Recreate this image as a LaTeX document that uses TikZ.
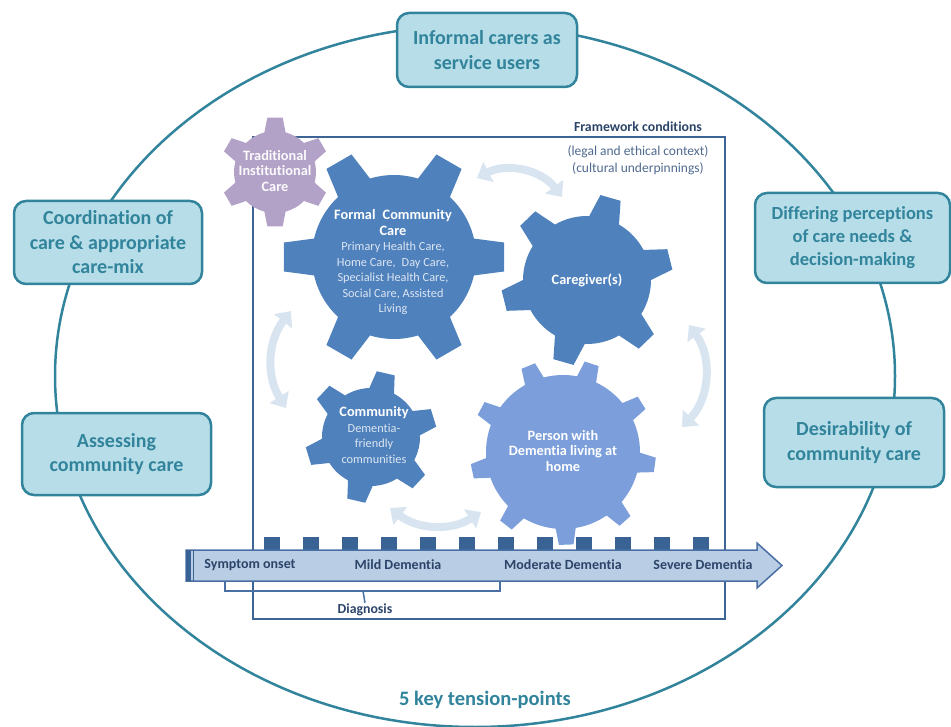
\documentclass[tikz,border=0pt]{standalone}
\usepackage{fontspec}
\setmainfont{Carlito}[Ligatures=NoCommon]
\usetikzlibrary{arrows.meta,positioning}
\definecolor{tealline}{HTML}{31849B}
\definecolor{tealfill}{HTML}{B7DEE8}
\definecolor{cogblue}{HTML}{4F81BD}
\definecolor{coglight}{HTML}{7C9FDC}
\definecolor{coglilac}{HTML}{B3A2C7}
\definecolor{cogtext}{HTML}{DCE6F2}
\definecolor{framecol}{HTML}{3E6496}
\definecolor{navytext}{HTML}{2B4468}
\definecolor{greytext}{HTML}{4F6A90}
\definecolor{cyclecol}{HTML}{D9E4F1}
\definecolor{barfill}{HTML}{B9CDE5}
\definecolor{barline}{HTML}{4A6FA5}
\definecolor{tickcol}{HTML}{3A6395}
\newcommand\cogline[1]{{\fontsize{12.3}{15}\selectfont\mdseries\color{cogtext}#1}}

\begin{document}
\begin{tikzpicture}[x=1pt,y=1pt,
    tension box/.style={draw=tealline,fill=tealfill,line width=2.5pt,rounded corners=12pt,
      text=tealline,align=center,inner sep=0pt},
    cog label/.style={text=white,font=\fontsize{14.3}{15.5}\selectfont\bfseries,align=center,inner sep=0pt},
    stage/.style={text=navytext,font=\fontsize{14}{16}\selectfont\bfseries,inner sep=1pt},
    cycle arrow/.style={cyclecol,line width=8pt,
      {Triangle[width=22pt,length=13pt]}-{Triangle[width=22pt,length=13pt]}},
    pics/cog/.style args={#1/#2/#3/#4/#5/#6}{code={
      \path[pic actions] ({#4-#5}:#1)
        \foreach \k [evaluate=\k as \a using #4+(\k-1)*360/#3] in {1,...,#3}{
          -- ({\a-#6}:#2) -- ({\a+#6}:#2) -- ({\a+#5}:#1)
          arc[start angle=\a+#5, delta angle=360/#3-2*#5, radius=#1]} -- cycle;
    }}]

    \useasboundingbox (0,0) rectangle (951,-727);

    % Tension points
    \draw[tealline,line width=2.5pt] (475,-376) ellipse [x radius=420, y radius=351];
    \node[tension box,minimum width=180pt,minimum height=74pt,
        font=\fontsize{20}{25}\selectfont\bfseries] (carers) at (487,-50)
        {Informal carers as\\service users};
    \node[tension box,minimum width=188pt,minimum height=83pt,
        font=\fontsize{20}{24.5}\selectfont\bfseries] (coord) at (108,-242.5)
        {Coordination of\\care \& appropriate\\care-mix};
    \node[tension box,minimum width=189pt,minimum height=82pt,
        font=\fontsize{20}{24}\selectfont\bfseries] (assess) at (116.5,-454)
        {Assessing\\community care};
    \node[tension box,minimum width=195pt,minimum height=90pt,
        font=\fontsize{18.5}{23}\selectfont\bfseries] (differ) at (852.5,-238)
        {Differing perceptions\\of care needs \&\\decision-making};
    \node[tension box,minimum width=180pt,minimum height=89pt,
        font=\fontsize{20}{25}\selectfont\bfseries] (desire) at (854,-442.5)
        {Desirability of\\community care};
    \node[text=tealline,font=\fontsize{20.5}{24}\selectfont\bfseries] (tension) at (485,-700)
        {5 key tension-points};

    % Framework
    \draw[framecol,line width=1.5pt] (253,-137) rectangle (725,-619);
    \node[text=navytext,font=\fontsize{13.8}{15}\selectfont\bfseries] (fw) at (638,-127)
        {Framework conditions};
    \node[text=greytext,font=\fontsize{13.5}{17}\selectfont,align=center,inner sep=0pt,
        below=10pt of fw] (context) {(legal and ethical context)\\(cultural underpinnings)};

    % Cycle arrows
    \coordinate (c1) at (477,-178);
    \coordinate (c2) at (562,-197);
    \coordinate (c3) at (689,-325);
    \coordinate (c4) at (682,-427);
    \coordinate (c5) at (481,-512);
    \coordinate (c6) at (390,-508);
    \coordinate (c7) at (286,-408);
    \coordinate (c8) at (291,-311);
    \draw[cycle arrow] (c1) to[bend left=40] (c2);
    \draw[cycle arrow] (c3) to[bend left=40] (c4);
    \draw[cycle arrow] (c6) to[bend right=35] (c5);
    \draw[cycle arrow] (c8) to[bend right=35] (c7);

    % Gears
    \pic[fill=coglilac] at (275,-172) {cog=41/55/6/30/15/8};
    \pic[fill=cogblue] at (394,-257) {cog=82/111/6/0/13/7.5};
    \pic[fill=cogblue] at (587,-280) {cog=64/86/6/14/14/7};
    \pic[fill=cogblue] at (371,-437) {cog=49/66/6/17/15/8};
    \pic[fill=coglight] at (563,-452) {cog=77/93/9/-8/7.5/4.5};

    \node[cog label,text=white!95!coglilac] (trad) at (275,-171)
        {Traditional\\Institutional\\Care};
    \node[cog label] (formal) at (393,-262.5)
        {Formal\enspace Community\\Care\\
         \cogline{Primary Health Care,}\\\cogline{Home Care,\enspace Day Care,}\\
         \cogline{Specialist Health Care,}\\\cogline{Social Care, Assisted}\\
         \cogline{Living}};
    \node[cog label] (carer) at (587,-280) {Caregiver(s)};
    \node[cog label] (community) at (374,-435)
        {Community\\\cogline{Dementia-}\\\cogline{friendly}\\\cogline{communities}};
    \node[cog label] (person) at (563,-451)
        {Person with\\Dementia living at\\home};

    % Timeline
    \foreach \i in {0,...,11}
        \fill[tickcol] (264+39*\i,-537) rectangle ++(16,-14);
    \filldraw[fill=barfill,draw=barline,line width=1.5pt,line join=miter]
        (186,-550) -- (757,-550) -- (757,-543) -- (782,-565.5) -- (757,-588)
        -- (757,-581) -- (186,-581) -- cycle;
    \fill[tickcol] (186,-550) rectangle (191,-581);
    \draw[tickcol,line width=1pt] (193.5,-550) -- (193.5,-581);
    \node[stage] (onset) at (250,-565) {Symptom onset};
    \node[stage] (mild) at (398,-565) {Mild Dementia};
    \node[stage] (moderate) at (563,-565) {Moderate Dementia};
    \node[stage] (severe) at (703,-565) {Severe Dementia};

    % Diagnosis bracket
    \node[stage,font=\fontsize{13.8}{15}\selectfont\bfseries] (diag) at (365,-610) {Diagnosis};
    \draw[barline,line width=1.5pt] (225,-582) -- (225,-591) -- (500,-591) -- (500,-582);
    \draw[barline,line width=1.5pt] (363,-591) -- (diag.north);

\end{tikzpicture}
\end{document}
